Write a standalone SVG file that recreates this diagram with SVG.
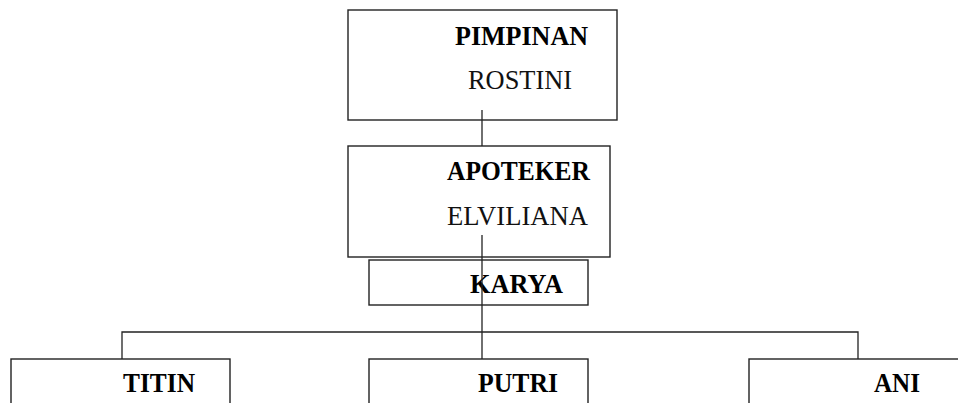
<svg xmlns="http://www.w3.org/2000/svg" width="958" height="403" viewBox="0 0 958 403">
<style>
.box{fill:#fff;stroke:#222;stroke-width:1.4}
.ln{fill:none;stroke:#222;stroke-width:1.3}
.b{font-family:"Liberation Serif","DejaVu Serif",serif;font-weight:bold;font-size:27px;fill:#000}
.r{font-family:"Liberation Serif","DejaVu Serif",serif;font-size:27px;fill:#111}
</style>
<rect width="958" height="403" fill="#fff"/>
<g id="pimpinan">
<rect class="box" x="348" y="10" width="269" height="110"/>
<text class="b" x="455" y="45" textLength="133" lengthAdjust="spacingAndGlyphs">PIMPINAN</text>
<text class="r" x="468" y="89" textLength="104" lengthAdjust="spacingAndGlyphs">ROSTINI</text>
</g>
<g id="apoteker">
<rect class="box" x="348" y="146" width="262" height="111"/>
<text class="b" x="447" y="180" textLength="143" lengthAdjust="spacingAndGlyphs">APOTEKER</text>
<text class="r" x="447" y="225" textLength="141" lengthAdjust="spacingAndGlyphs">ELVILIANA</text>
</g>
<g id="karya">
<rect class="box" x="369" y="260" width="219" height="45"/>
<text class="b" x="470" y="293" textLength="93" lengthAdjust="spacingAndGlyphs">KARYA</text>
</g>
<g id="titin">
<rect class="box" x="11" y="359" width="219" height="60"/>
<text class="b" x="123" y="392" textLength="72" lengthAdjust="spacingAndGlyphs">TITIN</text>
</g>
<g id="putri">
<rect class="box" x="369" y="359" width="219" height="60"/>
<text class="b" x="478" y="392" textLength="80" lengthAdjust="spacingAndGlyphs">PUTRI</text>
</g>
<g id="ani">
<rect class="box" x="749" y="359" width="230" height="60"/>
<text class="b" x="874" y="392" textLength="46" lengthAdjust="spacingAndGlyphs">ANI</text>
</g>
<g id="connectors">
<line class="ln" x1="482" y1="110" x2="482" y2="146"/>
<line class="ln" x1="482" y1="235" x2="482" y2="359"/>
<polyline class="ln" points="122,359 122,332 858,332 858,359"/>
</g>
</svg>
